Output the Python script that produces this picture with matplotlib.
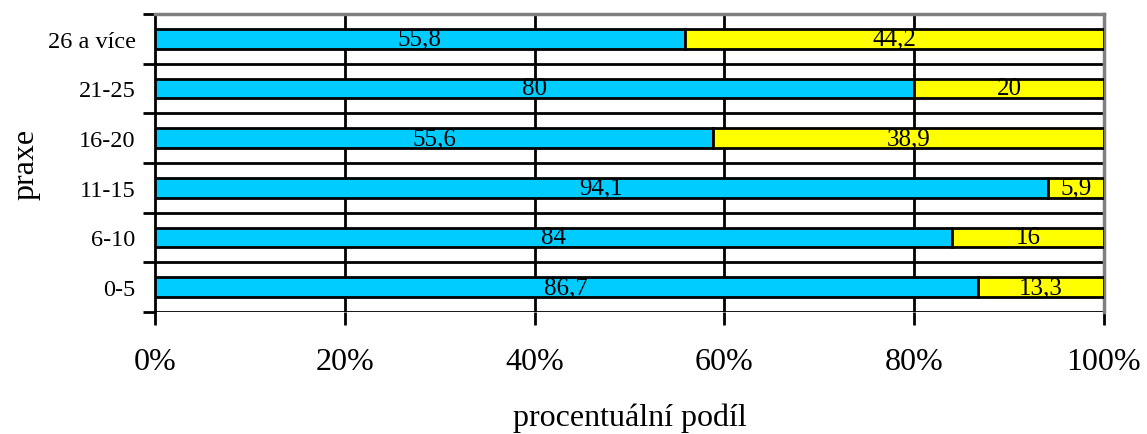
import numpy as np
import matplotlib.pyplot as plt

plt.rcParams['font.family'] = ['Liberation Serif', 'DejaVu Serif']

categories = ['0-5', '6-10', '11-15', '16-20', '21-25', '26 a více']
blue_vals = [86.7, 84, 94.1, 55.6, 80, 55.8]
yellow_vals = [13.3, 16, 5.9, 38.9, 20, 44.2]
xticks = [0, 20, 40, 60, 80, 100]

def fmt(v):
    s = ('%.1f' % v).rstrip('0').rstrip('.')
    return s.replace('.', ',')

blue = np.array(blue_vals)
yellow = np.array(yellow_vals)
total = blue + yellow
blue_pct = blue / total * 100
yellow_pct = yellow / total * 100

fig = plt.figure(figsize=(11.47, 4.35), dpi=100)
ax = fig.add_axes([155 / 1147, 1 - 313 / 435, (1104 - 155) / 1147, (313 - 15) / 435])

y = np.arange(len(categories))
bh = 0.4
ax.barh(y, blue_pct, height=bh, color='#00CCFF', edgecolor='black', linewidth=2, zorder=3)
ax.barh(y, yellow_pct, left=blue_pct, height=bh, color='#FFFF00', edgecolor='black', linewidth=2, zorder=3)

for i in range(len(categories)):
    ax.text(blue_pct[i] / 2, y[i], fmt(blue[i]), ha='center', va='center', fontsize=18, zorder=4)
    ax.text(blue_pct[i] + yellow_pct[i] / 2, y[i], fmt(yellow[i]), ha='center', va='center', fontsize=18, zorder=4)

ax.set_xlim(0, 100)
ax.set_ylim(-0.5, len(categories) - 0.5)

# gridlines at category boundaries and percent ticks
bounds = np.arange(-0.5, len(categories), 1.0)
for b in bounds[1:-1]:
    ax.axhline(b, color='black', linewidth=2, zorder=1)
for xv in xticks[1:-1]:
    ax.axvline(xv, color='black', linewidth=2, zorder=1)

ax.set_yticks(bounds)
ax.set_yticklabels([])
ax.set_yticks(y, minor=True)
ax.set_yticklabels(categories, minor=True, fontsize=17.5)
ax.tick_params(axis='y', which='minor', length=0, pad=14)
ax.tick_params(axis='y', which='major', length=9, width=2, direction='out')

ax.set_xticks(xticks)
ax.set_xticklabels(['%d%%' % v for v in xticks], fontsize=23)
ax.tick_params(axis='x', length=9, width=2, direction='out', pad=16)

for side in ['top', 'right']:
    ax.spines[side].set_color('#808080')
    ax.spines[side].set_linewidth(2.5)
ax.spines['left'].set_color('black')
ax.spines['left'].set_linewidth(2)
ax.spines['bottom'].set_visible(False)
ax.axhline(-0.5, color='black', linewidth=2, zorder=2)

ax.set_xlabel('procentuální podíl', fontsize=23, labelpad=19)
ax.set_ylabel('praxe', fontsize=23, labelpad=5)

fig.savefig('out.png', dpi=100)
